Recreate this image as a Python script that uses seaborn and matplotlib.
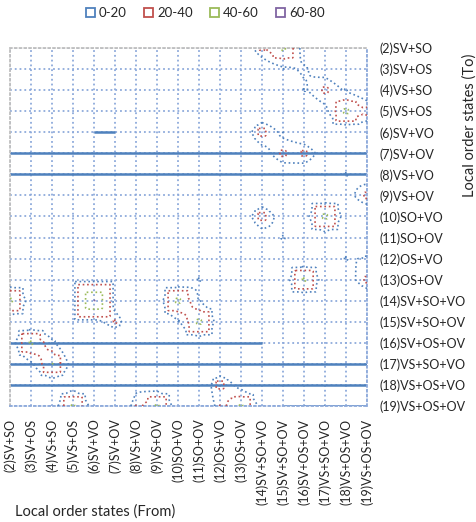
import numpy as np
import matplotlib
matplotlib.use("Agg")
import matplotlib.pyplot as plt
import seaborn as sns
from matplotlib.patches import Patch

# Local order states (same list on both axes)
states = ["(2)SV+SO", "(3)SV+OS", "(4)VS+SO", "(5)VS+OS", "(6)SV+VO", "(7)SV+OV",
          "(8)VS+VO", "(9)VS+OV", "(10)SO+VO", "(11)SO+OV", "(12)OS+VO", "(13)OS+OV",
          "(14)SV+SO+VO", "(15)SV+SO+OV", "(16)SV+OS+OV", "(17)VS+SO+VO",
          "(18)VS+OS+VO", "(19)VS+OS+OV"]
state_ids = list(range(2, 20))

# transition values (%); rows = To state, cols = From state
#            2  3  4  5  6  7  8  9 10 11 12 13 14 15 16 17 18 19
z_to_from = [
    [2, 2, 2, 2, 2, 2, 2, 2, 2, 2, 3, 4, 26, 46, 10, 4, 2, 2],   # 2
    [2, 2, 2, 2, 2, 2, 2, 2, 2, 2, 2, 3, 6, 14, 19, 10, 2, 2],   # 3
    [2, 2, 2, 2, 2, 2, 2, 2, 2, 2, 2, 2, 2, 4, 15, 28, 15, 4],   # 4
    [2, 2, 2, 2, 2, 2, 2, 2, 2, 2, 2, 2, 2, 2, 4, 12, 46, 30],   # 5
    [2, 2, 2, 2, 0, 0, 2, 2, 2, 2, 2, 4, 30, 13, 4, 2, 2, 2],    # 6
    [0, 0, 0, 0, 0, 0, 0, 0, 0, 0, 0, 3, 9, 28, 27, 9, 0, 0],    # 7
    [0, 0, 0, 0, 0, 0, 0, 0, 0, 0, 0, 0, 0, 4, 6, 8, 16, 8],     # 8
    [2, 2, 2, 2, 2, 2, 2, 2, 2, 2, 2, 2, 2, 2, 2, 2, 10, 28],    # 9
    [2, 2, 2, 2, 2, 2, 2, 2, 2, 2, 2, 4, 30, 8, 8, 46, 8, 2],    # 10
    [2, 2, 2, 2, 2, 2, 2, 2, 2, 2, 2, 2, 8, 17, 2, 6, 2, 2],     # 11
    [2, 2, 2, 2, 2, 2, 2, 2, 2, 2, 2, 2, 2, 2, 2, 4, 16, 18],    # 12
    [2, 2, 2, 2, 2, 2, 2, 2, 2, 16, 2, 2, 2, 5, 44, 6, 8, 28],   # 13
    [46, 8, 2, 6, 62, 10, 2, 6, 46, 16, 2, 2, 2, 2, 2, 2, 2, 2],  # 14
    [5, 2, 2, 2, 12, 24, 2, 2, 14, 46, 6, 2, 2, 2, 2, 2, 2, 2],   # 15
    [8, 44, 20, 0, 0, 0, 0, 0, 0, 5, 0, 0, 0, 2, 2, 2, 2, 2],    # 16
    [0, 14, 42, 10, 0, 0, 0, 0, 0, 0, 0, 0, 0, 0, 0, 0, 0, 0],   # 17
    [0, 0, 6, 8, 0, 0, 14, 6, 0, 0, 30, 10, 0, 0, 0, 0, 0, 0],   # 18
    [2, 2, 6, 44, 8, 2, 22, 44, 6, 2, 22, 44, 10, 0, 0, 0, 0, 0],  # 19
]

band_labels = ["0-20", "20-40", "40-60", "60-80"]
band_colors = ["#4F81BD", "#C0504D", "#9BBB59", "#8064A2"]
line_levels = [12, 20, 40, 60]

# rows drawn as solid lines in the wireframe: (row, from-start, from-end)
flat_rows = [(6, 6, 7), (7, 2, 19), (8, 2, 19), (16, 2, 14), (17, 2, 19),
             (18, 2, 19), (19, 15, 19)]

sns.set_theme(style="white")
plt.rcParams['font.family'] = ['Lato', 'DejaVu Sans']

fig = plt.figure(figsize=(4.77, 5.22), dpi=100)
ax = fig.add_axes([10 / 477, 1 - 406 / 522, 357 / 477, 358 / 522])

Z = np.array(z_to_from, dtype=float)
ids = np.array(state_ids, dtype=float)

# finer surface so the contour rings look boxy like the spreadsheet wireframe
fine = np.linspace(2, 19, 341)
FX, FY = np.meshgrid(fine, fine)
rows_interp = np.array([np.interp(fine, ids, r) for r in Z])
bilinear = np.array([np.interp(fine, ids, c) for c in rows_interp.T]).T
cones = np.full_like(FX, -100.0)
for j, yv in enumerate(ids):
    for i, xv in enumerate(ids):
        d = np.maximum(np.abs(FX - xv), np.abs(FY - yv))
        cones = np.maximum(cones, Z[j, i] - 55 * d)
F = np.maximum(cones, 0.7 * bilinear)

ax.set_xticks(state_ids)
ax.set_yticks(state_ids)
ax.grid(True, color="#8EAADB", linestyle=":", linewidth=1.3)
ax.set_axisbelow(True)

for row, x0, x1 in flat_rows:
    ax.hlines(row, x0, x1, color=band_colors[0], linewidth=1.8, zorder=2)

for lev, col in zip(line_levels, band_colors):
    if F.max() > lev:
        ax.contour(FX, FY, F, levels=[lev], colors=[col], linestyles="dotted",
                   linewidths=1.2, zorder=3)

ax.set_xlim(2, 19)
ax.set_ylim(19, 2)

ax.set_xticklabels(states, rotation=90, fontsize=9)
ax.yaxis.tick_right()
ax.set_yticklabels(states, fontsize=9)
ax.tick_params(axis="x", length=0, pad=9)
ax.tick_params(axis="y", length=0, pad=9)

for side in ["left", "top"]:
    ax.spines[side].set_color("#BFBFBF")
    ax.spines[side].set_linestyle(":")
    ax.spines[side].set_linewidth(1.3)
for side in ["right", "bottom"]:
    ax.spines[side].set_color("#8EAADB")
    ax.spines[side].set_linestyle(":")
    ax.spines[side].set_linewidth(1.3)

fig.text(15 / 477, 1 - 512 / 522, "Local order states (From)", fontsize=10.5,
         ha="left", va="center")
fig.text(470 / 477, 1 - 125 / 522, "Local order states (To)", fontsize=10.5,
         rotation=90, ha="center", va="center")

handles = [Patch(facecolor="none", edgecolor=c, linewidth=1.3) for c in band_colors]
fig.legend(handles, band_labels, loc="center", bbox_to_anchor=(0.43, 1 - 13 / 522),
           ncol=4, frameon=False, fontsize=9.5, handlelength=0.7, handleheight=0.7,
           handletextpad=0.3, columnspacing=1.3)

fig.savefig("out.png", dpi=100)
